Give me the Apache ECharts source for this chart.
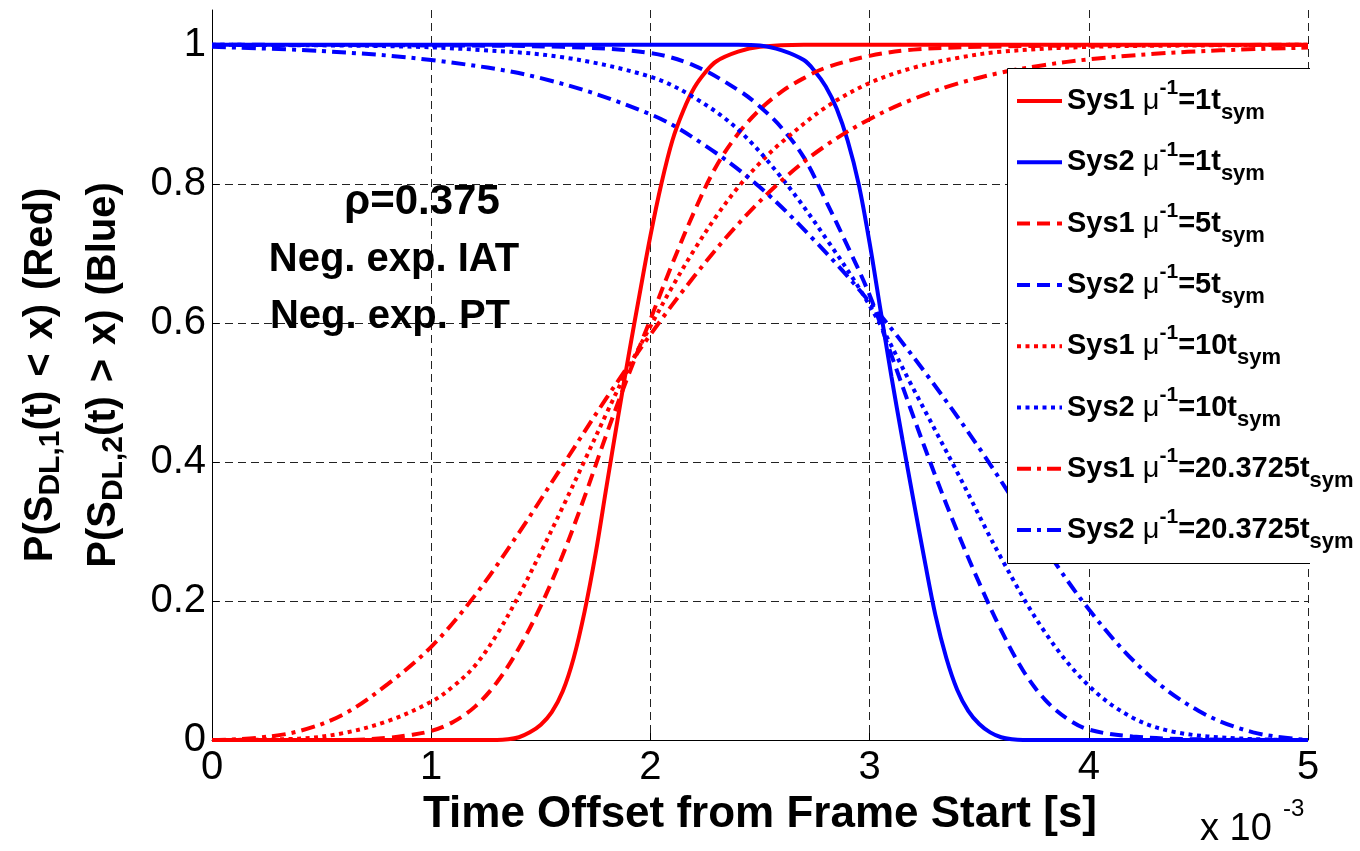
<!DOCTYPE html>
<html>
<head>
<meta charset="utf-8">
<script src="https://cdn.jsdelivr.net/npm/echarts@6/dist/echarts.min.js"></script>
<style>
  html, body { margin: 0; padding: 0; background: #fff; }
  #chart { width: 1360px; height: 851px; }
</style>
</head>
<body>
<div id="chart"></div>
<script>
// Delay CDFs: red = P(S_DL,1(t) < x), blue = P(S_DL,2(t) > x); x in units of 1e-3 s
const sys1Mu1 = [[0,0],[1.3,0],[1.35,0.001],[1.4,0.004],[1.45,0.011],[1.5,0.022],[1.55,0.04],[1.6,0.07],[1.65,0.118],[1.7,0.185],[1.75,0.268],[1.8,0.365],[1.85,0.46],[1.9,0.552],[1.95,0.64],[2.0,0.725],[2.05,0.8],[2.1,0.862],[2.15,0.905],[2.2,0.938],[2.25,0.96],[2.3,0.976],[2.4,0.99],[2.5,0.997],[2.7,1.0],[5,1.0]];
const sys2Mu1 = [[0,1.0],[2.4,1.0],[2.5,0.999],[2.6,0.992],[2.7,0.978],[2.75,0.962],[2.8,0.94],[2.85,0.908],[2.9,0.862],[2.95,0.8],[3.0,0.715],[3.05,0.618],[3.1,0.522],[3.15,0.432],[3.2,0.345],[3.25,0.26],[3.3,0.18],[3.35,0.118],[3.4,0.072],[3.45,0.042],[3.5,0.023],[3.55,0.011],[3.6,0.004],[3.65,0.001],[3.7,0],[5,0]];
const sys1Mu5 = [[0,0],[0.6,0],[0.8,0.003],[0.9,0.007],[1.0,0.013],[1.1,0.026],[1.2,0.048],[1.3,0.083],[1.4,0.132],[1.5,0.193],[1.6,0.266],[1.7,0.35],[1.8,0.44],[1.9,0.525],[2.0,0.605],[2.1,0.685],[2.2,0.76],[2.3,0.825],[2.4,0.872],[2.5,0.907],[2.6,0.933],[2.7,0.952],[2.8,0.967],[3.0,0.984],[3.2,0.993],[3.5,0.997],[4.0,0.999],[5,1.0]];
const sys2Mu5 = [[0,1.0],[1.0,0.999],[1.6,0.997],[2.0,0.988],[2.2,0.97],[2.4,0.935],[2.5,0.911],[2.6,0.88],[2.7,0.838],[2.8,0.776],[2.9,0.71],[3.0,0.64],[3.1,0.553],[3.2,0.465],[3.3,0.38],[3.4,0.3],[3.5,0.226],[3.6,0.158],[3.7,0.1],[3.8,0.058],[3.9,0.031],[4.0,0.015],[4.2,0.005],[4.5,0.001],[5,0]];
const sys1Mu10 = [[0,0],[0.4,0.002],[0.6,0.01],[0.8,0.027],[1.0,0.055],[1.1,0.077],[1.2,0.107],[1.3,0.152],[1.4,0.208],[1.5,0.27],[1.6,0.335],[1.7,0.402],[1.8,0.47],[1.9,0.535],[2.0,0.595],[2.1,0.652],[2.2,0.705],[2.3,0.753],[2.4,0.795],[2.5,0.83],[2.6,0.86],[2.8,0.91],[3.0,0.945],[3.2,0.967],[3.4,0.981],[3.6,0.99],[4.0,0.997],[4.5,0.999],[5,1.0]];
const sys2Mu10 = [[0,1.0],[0.8,0.998],[1.2,0.993],[1.6,0.982],[2.0,0.954],[2.2,0.924],[2.4,0.878],[2.6,0.808],[2.8,0.722],[3.0,0.625],[3.2,0.505],[3.4,0.385],[3.6,0.262],[3.8,0.155],[4.0,0.078],[4.2,0.032],[4.4,0.011],[4.7,0.002],[5,0]];
const sys1Mu20 = [[0,0],[0.2,0.003],[0.4,0.013],[0.6,0.037],[0.8,0.08],[1.0,0.134],[1.2,0.208],[1.4,0.298],[1.6,0.395],[1.8,0.492],[2.0,0.583],[2.2,0.667],[2.4,0.742],[2.6,0.805],[2.8,0.855],[3.0,0.893],[3.2,0.922],[3.4,0.944],[3.6,0.96],[3.8,0.971],[4.0,0.979],[4.3,0.987],[4.6,0.992],[5,0.996]];
const sys2Mu20 = [[0,0.997],[0.5,0.991],[1.0,0.978],[1.5,0.952],[2.0,0.9],[2.25,0.855],[2.5,0.795],[2.75,0.718],[3.0,0.63],[3.25,0.53],[3.5,0.42],[3.75,0.3],[4.0,0.188],[4.25,0.1],[4.5,0.042],[4.75,0.011],[5,0.0]];

const seriesNames = [
  'Sys1 μ-1=1tsym', 'Sys2 μ-1=1tsym',
  'Sys1 μ-1=5tsym', 'Sys2 μ-1=5tsym',
  'Sys1 μ-1=10tsym', 'Sys2 μ-1=10tsym',
  'Sys1 μ-1=20.3725tsym', 'Sys2 μ-1=20.3725tsym'
];
const seriesData = [sys1Mu1, sys2Mu1, sys1Mu5, sys2Mu5, sys1Mu10, sys2Mu10, sys1Mu20, sys2Mu20];
const seriesColors = ['#ff0000', '#0000ff', '#ff0000', '#0000ff', '#ff0000', '#0000ff', '#ff0000', '#0000ff'];
const seriesDash = ['solid', 'solid', [13, 7], [13, 7], [4, 4.5], [4, 4.5], [14, 6, 4, 6], [14, 6, 4, 6]];

const annotationLines = ['ρ=0.375', 'Neg. exp. IAT', 'Neg. exp. PT'];

const FONT = "'Liberation Sans', Arial, Helvetica, sans-serif";

const chart = echarts.init(document.getElementById('chart'), null, { renderer: 'canvas' });

function legendLabel(name) {
  const m = name.match(/^(Sys\d) μ-1=([\d.]+)tsym$/);
  return '{m|' + m[1] + ' }{mu|μ}{sup|-1}{m|=' + m[2] + 't}{sub|sym}';
}

// y-axis title: slightly wider spaces via a larger space token
function yTitle(pre, sub, post) {
  const parts = post.split(' ');
  let s = '{m|' + pre + '}{s|' + sub + '}';
  parts.forEach((p, i) => {
    if (i > 0) s += '{sp| }';
    s += '{m|' + p + '}';
  });
  return s;
}
const yTitleRich = {
  m: { fontFamily: FONT, fontSize: 40, fontWeight: 'bold', lineHeight: 50, fill: '#000' },
  sp: { fontFamily: FONT, fontSize: 50, fontWeight: 'bold', lineHeight: 50, fill: '#000' },
  s: { fontFamily: FONT, fontSize: 30, fontWeight: 'bold', lineHeight: 32, verticalAlign: 'bottom', fill: '#000' }
};

const option = {
  animation: false,
  backgroundColor: '#ffffff',
  grid: { left: 212, right: 52, top: 10, bottom: 111, containLabel: false },
  xAxis: {
    type: 'value', min: 0, max: 5, interval: 1,
    name: 'Time Offset from Frame Start [s]',
    nameLocation: 'middle', nameGap: 72,
    nameTextStyle: { fontFamily: FONT, fontSize: 44, fontWeight: 'bold', color: '#000', verticalAlign: 'middle' },
    axisLine: { show: true, onZero: false, lineStyle: { color: '#000', width: 1 } },
    axisTick: { show: true, inside: true, length: 7, lineStyle: { color: '#000' } },
    axisLabel: { fontFamily: FONT, fontSize: 40, color: '#000', margin: 8 },
    splitLine: { show: true, lineStyle: { color: '#222', width: 1, type: [8, 5] } }
  },
  yAxis: {
    type: 'value', min: 0, max: 1.05, interval: 0.2,
    axisLine: { show: true, lineStyle: { color: '#000', width: 1 } },
    axisTick: { show: true, inside: true, length: 7, lineStyle: { color: '#000' } },
    axisLabel: { fontFamily: FONT, fontSize: 40, color: '#000', margin: 6, showMaxLabel: false },
    splitLine: { show: true, showMaxLine: false, lineStyle: { color: '#222', width: 1, type: [8, 5] } }
  },
  legend: {
    orient: 'vertical', left: 1015, top: 78, padding: 0,
    itemWidth: 45, itemHeight: 14, itemGap: 15.3,
    selectedMode: false, z: 20,
    lineStyle: { width: 4 },
    itemStyle: { opacity: 0 },
    data: seriesNames,
    formatter: legendLabel,
    textStyle: {
      color: '#000', fontFamily: FONT,
      rich: {
        m: { fontFamily: FONT, fontSize: 29, fontWeight: 'bold', lineHeight: 46, color: '#000' },
        mu: { fontFamily: FONT, fontSize: 29, fontWeight: 'normal', lineHeight: 46, color: '#000' },
        sup: { fontFamily: FONT, fontSize: 21, fontWeight: 'bold', lineHeight: 22, verticalAlign: 'top', color: '#000' },
        sub: { fontFamily: FONT, fontSize: 22, fontWeight: 'bold', lineHeight: 22, verticalAlign: 'bottom', color: '#000' }
      }
    }
  },
  graphic: [
    { type: 'rect', z: 10, silent: true, shape: { x: 1007, y: 68, width: 360, height: 495 }, style: { fill: '#fff' } },
    { type: 'polyline', z: 11, silent: true,
      shape: { points: [[1310, 68.5], [1007.5, 68.5], [1007.5, 563.5], [1310, 563.5]] },
      style: { stroke: '#000', lineWidth: 1, fill: null } },
    { type: 'text', z: 12, x: 41, y: 375, rotation: Math.PI / 2,
      style: { text: yTitle('P(S', 'DL,1', '(t) < x) (Red)'), align: 'center', verticalAlign: 'middle', fill: '#000', rich: yTitleRich } },
    { type: 'text', z: 12, x: 104, y: 375, rotation: Math.PI / 2,
      style: { text: yTitle('P(S', 'DL,2', '(t) > x) (Blue)'), align: 'center', verticalAlign: 'middle', fill: '#000', rich: yTitleRich } },
    { type: 'text', z: 12, x: 422, y: 202,
      style: { text: annotationLines[0], font: 'bold 42px ' + FONT, align: 'center', verticalAlign: 'middle', fill: '#000' } },
    { type: 'text', z: 12, x: 394, y: 260,
      style: { text: annotationLines[1], font: 'bold 40px ' + FONT, align: 'center', verticalAlign: 'middle', fill: '#000' } },
    { type: 'text', z: 12, x: 390, y: 317,
      style: { text: annotationLines[2], font: 'bold 40px ' + FONT, align: 'center', verticalAlign: 'middle', fill: '#000' } },
    { type: 'text', z: 12, x: 1200, y: 849,
      style: { text: 'x 10', font: '38px ' + FONT, align: 'left', verticalAlign: 'bottom', fill: '#000' } },
    { type: 'text', z: 12, x: 1283, y: 809,
      style: { text: '-3', font: '24px ' + FONT, align: 'left', verticalAlign: 'middle', fill: '#000' } }
  ],
  series: seriesNames.map((name, i) => ({
    name: name,
    type: 'line',
    data: seriesData[i],
    showSymbol: false,
    symbol: 'none',
    smooth: 0.35,
    clip: false,
    z: 2 + i * 0.01,
    lineStyle: { color: seriesColors[i], width: 4, type: seriesDash[i] },
    itemStyle: { color: seriesColors[i] },
    emphasis: { disabled: true }
  }))
};

chart.setOption(option);
</script>
</body>
</html>
